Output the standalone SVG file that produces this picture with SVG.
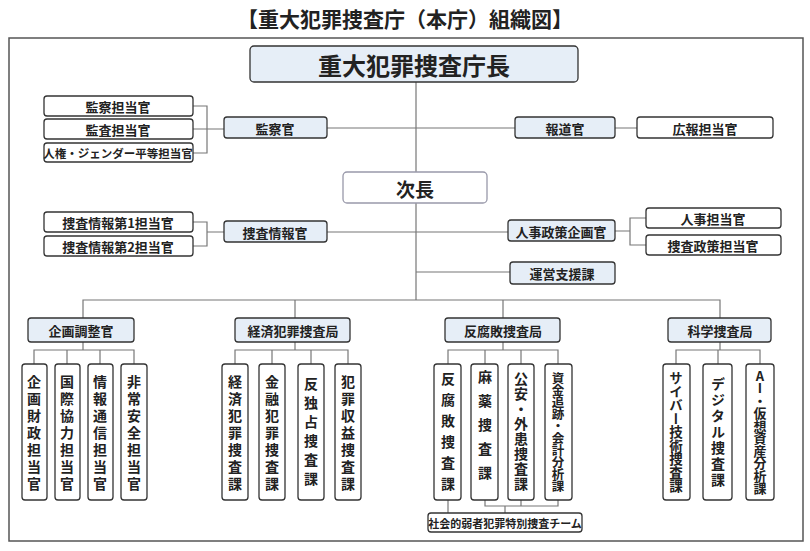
<svg xmlns="http://www.w3.org/2000/svg" width="810" height="551" viewBox="0 0 810 551">
<style>
text{font-family:"Noto Sans CJK JP","Noto Sans",sans-serif;font-weight:bold;fill:#222;text-anchor:middle;dominant-baseline:central}
.b{fill:#fff;stroke:#333;stroke-width:1.3}
.h{fill:#e6eef7;stroke:#333;stroke-width:1.3}
.c{fill:none;stroke:#777;stroke-width:1.2}
.t{font-size:13px}
.v{font-size:14px;writing-mode:vertical-rl;text-orientation:upright;dominant-baseline:central}
</style>
<rect width="810" height="551" fill="#fff"/>
<text x="405" y="18" style="font-size:21px">【重大犯罪捜査庁（本庁）組織図】</text>
<rect x="9" y="38" width="794" height="503" fill="none" stroke="#555" stroke-width="1.5"/>
<g id="connectors" class="c">
<path d="M416 82V300M327 128H515M615 128H637M193 106H207V153H193M193 129H224M327 232H508M193 222H207V246H193M207 232H224M615 231H630M646 218H630V245H646M416 272H510"/>
<path d="M83 318V300H720V318M295 300V318M503 300V318"/>
<path d="M83 342V350M34 364V350H134V364M67 350V364M100 350V364"/>
<path d="M295 342V350M235 364V350H348V364M272 350V364M311 350V364"/>
<path d="M503 342V350M448 364V350H558V364M485 350V364M521 350V364"/>
<path d="M720 342V350M676 364V350H760V364M718 350V364"/>
<path d="M448 500V513M485 500V506H558V500M521 500V506M505 506V513"/>
</g>
<g id="chief"><rect class="h" x="250" y="46" width="328" height="36" rx="4"/><text x="414" y="64" style="font-size:24px">重大犯罪捜査庁長</text></g>
<g id="kansatsu1"><rect class="b" x="44" y="96" width="149" height="20" rx="3"/><text class="t" x="118" y="106">監察担当官</text></g>
<g id="kansa"><rect class="b" x="44" y="119" width="149" height="20" rx="3"/><text class="t" x="118" y="129">監査担当官</text></g>
<g id="jinken"><rect class="b" x="44" y="143" width="149" height="19" rx="3"/><text class="t" x="118" y="153" style="font-size:11.5px">人権・ジェンダー平等担当官</text></g>
<g id="kansatsukan"><rect class="h" x="224" y="117" width="103" height="21" rx="3"/><text class="t" x="275" y="128">監察官</text></g>
<g id="houdou"><rect class="h" x="515" y="117" width="100" height="21" rx="3"/><text class="t" x="565" y="128">報道官</text></g>
<g id="kouhou"><rect class="b" x="637" y="117" width="136" height="21" rx="3"/><text class="t" x="705" y="128">広報担当官</text></g>
<g id="jichou"><rect class="b" x="343" y="172" width="144" height="31" rx="4" style="stroke:#99a"/><text x="415" y="188" style="font-size:19px">次長</text></g>
<g id="jouhou1"><rect class="b" x="44" y="212" width="149" height="20" rx="3"/><text class="t" x="118" y="222">捜査情報第1担当官</text></g>
<g id="jouhou2"><rect class="b" x="44" y="236" width="149" height="20" rx="3"/><text class="t" x="118" y="246">捜査情報第2担当官</text></g>
<g id="jouhoukan"><rect class="h" x="224" y="221" width="103" height="21" rx="3"/><text class="t" x="275" y="232">捜査情報官</text></g>
<g id="jinjiseisaku"><rect class="h" x="508" y="220" width="107" height="21" rx="3"/><text class="t" x="561" y="231">人事政策企画官</text></g>
<g id="jinji"><rect class="b" x="646" y="208" width="135" height="20" rx="3"/><text class="t" x="713" y="218">人事担当官</text></g>
<g id="sousaseisaku"><rect class="b" x="646" y="235" width="135" height="20" rx="3"/><text class="t" x="713" y="245">捜査政策担当官</text></g>
<g id="unei"><rect class="h" x="510" y="262" width="105" height="22" rx="3"/><text class="t" x="562" y="273">運営支援課</text></g>
<g id="kikaku"><rect class="h" x="28" y="318" width="106" height="24" rx="3"/><text class="t" x="81" y="330">企画調整官</text></g>
<g id="keizai"><rect class="h" x="235" y="318" width="115" height="24" rx="3"/><text class="t" x="293" y="330">経済犯罪捜査局</text></g>
<g id="hanfuhai"><rect class="h" x="445" y="318" width="115" height="24" rx="3"/><text class="t" x="503" y="330">反腐敗捜査局</text></g>
<g id="kagaku"><rect class="h" x="668" y="318" width="103" height="24" rx="3"/><text class="t" x="720" y="330">科学捜査局</text></g>
<g id="k1"><rect class="b" x="22" y="364" width="25" height="136" rx="3"/><text class="v" x="34" y="434" style="letter-spacing:3px">企画財政担当官</text></g>
<g id="k2"><rect class="b" x="55" y="364" width="25" height="136" rx="3"/><text class="v" x="67" y="434" style="letter-spacing:3px">国際協力担当官</text></g>
<g id="k3"><rect class="b" x="88" y="364" width="25" height="136" rx="3"/><text class="v" x="100" y="434" style="letter-spacing:3px">情報通信担当官</text></g>
<g id="k4"><rect class="b" x="121" y="364" width="26" height="136" rx="3"/><text class="v" x="134" y="434" style="letter-spacing:3px">非常安全担当官</text></g>
<g id="e1"><rect class="b" x="222" y="364" width="26" height="136" rx="3"/><text class="v" x="235" y="434" style="letter-spacing:3px">経済犯罪捜査課</text></g>
<g id="e2"><rect class="b" x="259" y="364" width="26" height="136" rx="3"/><text class="v" x="272" y="434" style="letter-spacing:3px">金融犯罪捜査課</text></g>
<g id="e3"><rect class="b" x="298" y="364" width="26" height="136" rx="3"/><text class="v" x="311" y="434" style="letter-spacing:5px">反独占捜査課</text></g>
<g id="e4"><rect class="b" x="335" y="364" width="26" height="136" rx="3"/><text class="v" x="348" y="434" style="letter-spacing:3px">犯罪収益捜査課</text></g>
<g id="h1"><rect class="b" x="434" y="364" width="27" height="136" rx="3"/><text class="v" x="448" y="435" style="letter-spacing:7px">反腐敗捜査課</text></g>
<g id="h2"><rect class="b" x="471" y="364" width="27" height="136" rx="3"/><text class="v" x="485" y="430" style="letter-spacing:10px">麻薬捜査課</text></g>
<g id="h3"><rect class="b" x="508" y="364" width="26" height="136" rx="3"/><text class="v" x="521" y="432" style="letter-spacing:1px">公安・外患捜査課</text></g>
<g id="h4"><rect class="b" x="545" y="364" width="27" height="136" rx="3"/><text class="v" x="558" y="432" style="font-size:12.5px;letter-spacing:-0.5px">資金追跡・会計分析課</text></g>
<g id="s1"><rect class="b" x="663" y="364" width="27" height="136" rx="3"/><text class="v" x="676" y="432" style="font-size:13.5px;letter-spacing:0px">サイバー技術捜査課</text></g>
<g id="s2"><rect class="b" x="703" y="364" width="29" height="136" rx="3"/><text class="v" x="718" y="433" style="letter-spacing:2px">デジタル捜査課</text></g>
<g id="s3"><rect class="b" x="746" y="364" width="28" height="136" rx="3"/><text class="v" x="760" y="432" style="font-size:13px;letter-spacing:-0.5px">AI・仮想資産分析課</text></g>
<g id="team"><rect class="b" x="428" y="513" width="154" height="19" rx="3"/><text x="505" y="523" style="font-size:11px">社会的弱者犯罪特別捜査チーム</text></g>
</svg>
